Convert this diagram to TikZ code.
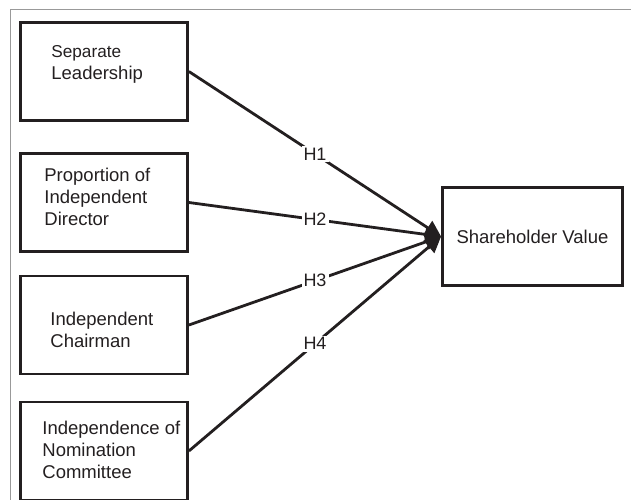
\documentclass[tikz,border=0pt]{standalone}
\usepackage{fontspec}
\setmainfont{Liberation Sans}
\usetikzlibrary{arrows.meta}
\definecolor{ink}{HTML}{231F20}

\begin{document}
\begin{tikzpicture}[x=0.5pt, y=-0.5pt,
    factorbox/.style={draw=ink, line width=1.4pt, minimum width=83.5pt, minimum height=49pt, inner sep=0pt},
    valuebox/.style={factorbox, minimum width=90pt, text=ink, font=\fontsize{9.25}{11}\selectfont},
    factortext/.style={anchor=west, align=left, inner sep=0pt, text=ink, font=\fontsize{9.25}{11}\selectfont},
    hypo/.style={draw=ink, line width=1.4pt, -{Triangle[length=8pt, width=8pt]}},
    hlabel/.style={midway, fill=white, inner sep=1pt, text=ink, font=\fontsize{9}{10}\selectfont}]
    \clip (0,0) rectangle (631,499);

    % Frame
    \draw[gray!80, line width=0.5pt] (10,510) |- (640,9);

    % Governance factors
    \def\factor#1#2#3#4{
        \node[factorbox] (#2) at (#1) {};
        \node[factortext] (#2t) at (#3) {#4};
    }
    \factor{104,71.5}{sep}{51,64.5}{\fontsize{8.6}{11.4}\selectfont Separate\\Leadership}
    \factor{104,202.5}{prop}{44,197}{Proportion of\\Independent\\Director}
    \factor{104,325}{chair}{50,329.5}{Independent\\Chairman}
    \factor{104,451}{nom}{42,450}{Independence of\\Nomination\\Committee}

    % Outcome
    \node[valuebox] (value) at (532.5,236.5) {Shareholder Value};

    % Hypotheses
    \draw[hypo] (sep.east) -- (value.west) node[hlabel] {H1};
    \draw[hypo] (prop.east) -- (value.west) node[hlabel] {H2};
    \draw[hypo] (chair.east) -- (value.west) node[hlabel] {H3};
    \draw[hypo] (nom.east) -- (value.west) node[hlabel] {H4};
\end{tikzpicture}
\end{document}
